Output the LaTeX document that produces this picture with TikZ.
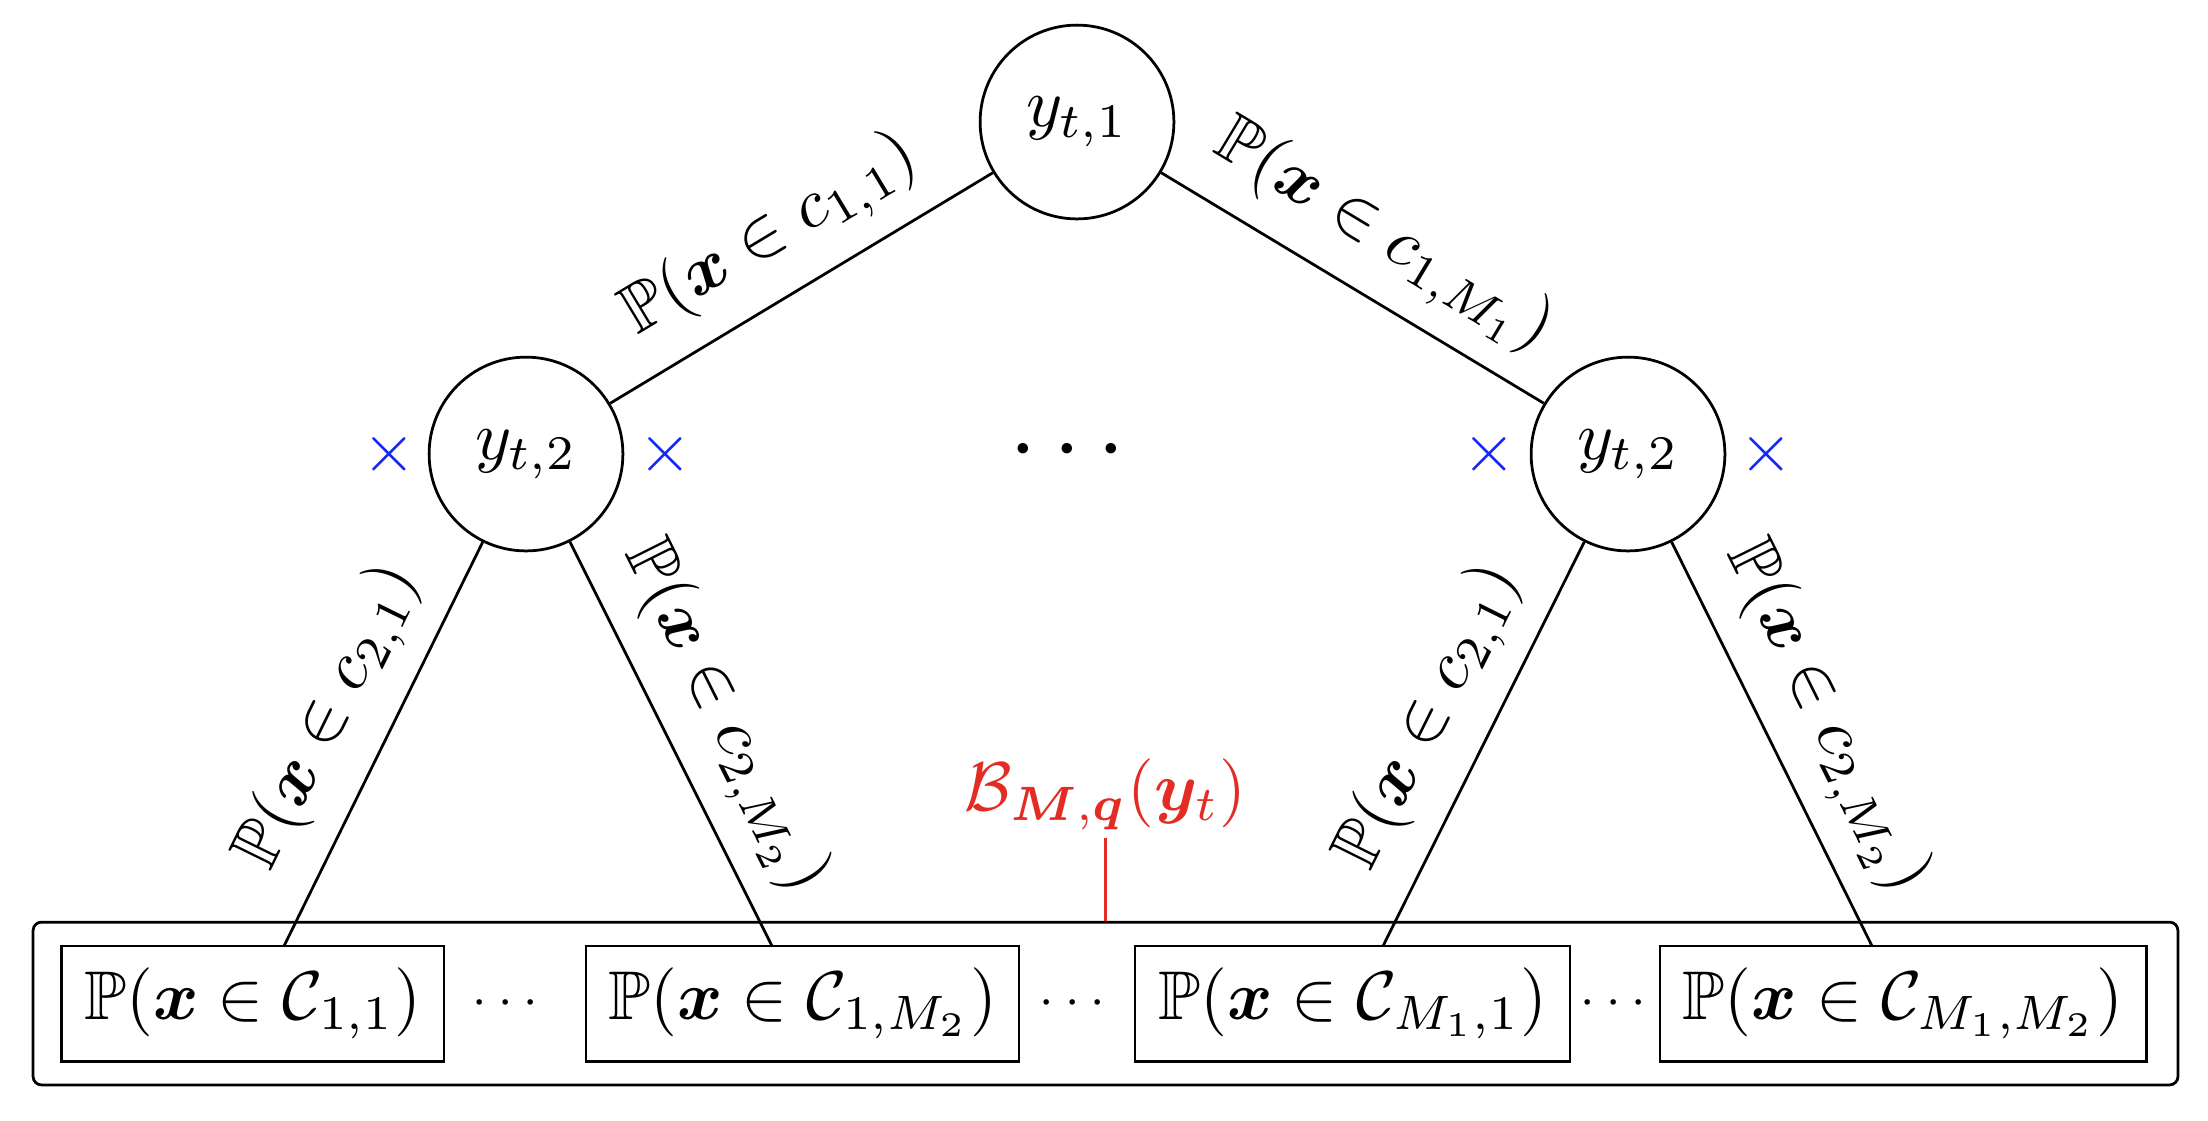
\documentclass[tikz,border=0pt]{standalone}
\usepackage{amsmath,amssymb,bm}
\definecolor{lblred}{RGB}{226,44,36}
\definecolor{xblue}{RGB}{20,40,240}
\begin{document}
\begin{tikzpicture}[x=0.145pt,y=-0.145pt,
  ynode/.style={draw,circle,minimum size=28.1pt,inner sep=0pt},
  leafbox/.style={draw,minimum height=16.7pt,inner sep=2pt},
  elab/.style={midway,sloped,above},
  bluex/.style={text=xblue,inner sep=0pt}]
\useasboundingbox (0,0) rectangle (2208,1120);
% tree nodes
\node[ynode] (root) at (1077,122) {$y_{t,1}$};
\node[ynode] (m1) at (526,454) {$y_{t,2}$};
\node[ynode] (m2) at (1628,454) {$y_{t,2}$};
\node[bluex] (x1) at (389,454) {$\times$};
\node[bluex] (x2) at (665,454) {$\times$};
\node[bluex] (x3) at (1489,454) {$\times$};
\node[bluex] (x4) at (1766,454) {$\times$};
\node[inner sep=0pt] (mdots) at (1076,451) {\Large$\cdots$};
% outer box
\node[draw,rounded corners=1.2pt,minimum width=311pt,minimum height=23.6pt,inner sep=0pt] (outer) at (1105.5,1003.5) {};
% leaf boxes
\node[leafbox,minimum width=55.5pt] (b1) at (252.5,1003.5) {$\mathbb{P}(\boldsymbol{x}\in\mathcal{C}_{1,1})$};
\node[leafbox,minimum width=62.8pt] (b2) at (802.5,1003.5) {$\mathbb{P}(\boldsymbol{x}\in\mathcal{C}_{1,M_2})$};
\node[leafbox,minimum width=63.1pt] (b3) at (1352.5,1003.5) {$\mathbb{P}(\boldsymbol{x}\in\mathcal{C}_{M_1,1})$};
\node[leafbox,minimum width=70.5pt] (b4) at (1903,1003.5) {$\mathbb{P}(\boldsymbol{x}\in\mathcal{C}_{M_1,M_2})$};
\node[inner sep=0pt] (d1) at (510,1003) {\scriptsize$\cdots$};
\node[inner sep=0pt] (d2) at (1077,1003) {\scriptsize$\cdots$};
\node[inner sep=0pt] (d3) at (1618,1003) {\scriptsize$\cdots$};
\coordinate (t1) at (284,946);
\coordinate (t2) at (772,946);
\coordinate (t3) at (1383,946);
\coordinate (t4) at (1872,946);
% red label
\node[text=lblred,anchor=south,inner sep=1pt] (lbl) at (1105.5,838) {$\mathcal{B}_{\boldsymbol{M},\boldsymbol{q}}(\boldsymbol{y}_t)$};
\draw[lblred] (lbl.south) -- (outer.north);
% edges
\draw (root) -- (m1) node[elab] {$\mathbb{P}(\boldsymbol{x}\in c_{1,1})$};
\draw (root) -- (m2) node[elab] {$\mathbb{P}(\boldsymbol{x}\in c_{1,M_1})$};
\draw (m1) -- (t1) node[elab] {$\mathbb{P}(\boldsymbol{x}\in c_{2,1})$};
\draw (m1) -- (t2) node[elab] {$\mathbb{P}(\boldsymbol{x}\in c_{2,M_2})$};
\draw (m2) -- (t3) node[elab] {$\mathbb{P}(\boldsymbol{x}\in c_{2,1})$};
\draw (m2) -- (t4) node[elab] {$\mathbb{P}(\boldsymbol{x}\in c_{2,M_2})$};
\end{tikzpicture}
\end{document}
